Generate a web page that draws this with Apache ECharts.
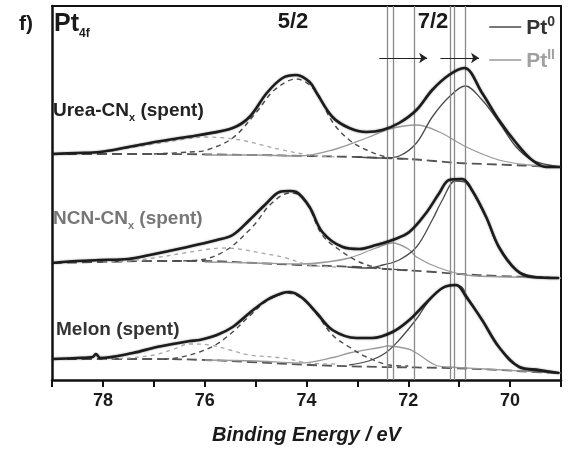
<!DOCTYPE html>
<html>
<head>
<meta charset="utf-8">
<script src="https://cdn.jsdelivr.net/npm/echarts@6/dist/echarts.min.js"></script>
<style>html,body{margin:0;padding:0;background:#fff}#c{width:572px;height:450px}</style>
</head>
<body>
<div id="c"></div>
<script>
// ---- Data (binding energy eV, intensity a.u. offset per spectrum) ----
const xTickLabels = [70, 72, 74, 76, 78];

const ureaEnvelope = [[79.0,226],[78.5,227],[78.06,228],[77.5,233],[77.08,237],[76.6,241],[76.1,245],[75.45,252],[75.12,263],[74.78,287],[74.47,302],[74.2,305],[73.94,298],[73.8,287],[73.49,263],[73.16,252],[72.82,248],[72.51,250],[72.18,257],[71.84,270],[71.53,290],[71.2,305],[70.9,312],[70.55,287],[70.22,260],[69.88,237],[69.57,220],[69.29,213],[69.0,213]];
const ureaBaseline = [[79,226],[77,226],[75,225],[74,224],[73,223],[72.5,222],[72,221],[71.5,219],[71,217],[70.5,216],[70,215],[69.5,214],[69,213]];
const ureaPt0_72 = [[73.0,223],[72.5,222],[72.18,224],[71.84,237],[71.53,263],[71.2,283],[70.88,294],[70.55,280],[70.22,258],[69.88,233],[69.57,220],[69.24,215],[69.0,213]];
const ureaPt0_52 = [[77.0,226],[76.3,228],[75.96,230],[75.45,242],[74.98,268],[74.63,290],[74.2,301],[73.84,290],[73.49,258],[73.16,240],[72.82,230],[72.43,223],[72.0,221]];
const ureaPtII_72 = [[76.0,225],[75.0,225],[74.14,224],[73.49,230],[72.82,242],[72.37,251],[71.84,255],[71.39,248],[70.86,233],[70.22,220],[69.63,215],[69.0,213]];
const ureaPtII_52 = [[78.5,227],[78.0,228],[77.5,232],[77.0,236],[76.5,240],[76.0,243],[75.6,242],[75.2,239],[74.8,234],[74.47,230],[73.94,225],[73.4,223]];

const ncnEnvelope = [[79.0,117],[78.5,119],[78.06,120],[77.5,121],[77.08,125],[76.43,132],[75.76,140],[75.45,145],[75.12,160],[74.78,177],[74.53,188],[74.33,189],[74.2,188],[73.94,173],[73.69,148],[73.29,133],[72.96,131],[72.63,135],[72.31,140],[71.98,148],[71.65,167],[71.39,187],[71.2,200],[70.94,201],[70.75,190],[70.47,163],[70.22,133],[69.88,110],[69.57,103],[69.04,102]];
const ncnBaseline = [[79,117],[78,118],[77,119],[76,119],[75,117],[74.14,115],[73,113],[72.45,111],[71.5,108],[71,106],[70.22,104],[69.5,103],[69,102]];
const ncnPt0_72 = [[73.2,113],[72.82,112],[72.5,115],[72.18,120],[71.84,133],[71.53,160],[71.33,180],[71.08,199],[70.9,198],[70.75,189],[70.47,162],[70.22,132],[69.88,110],[69.57,104],[69.04,102]];
const ncnPt0_52 = [[76.6,119],[76.1,120],[75.57,130],[75.12,150],[74.98,158],[74.7,176],[74.33,187],[74.1,184],[73.94,172],[73.69,145],[73.35,130],[72.96,118],[72.57,112],[72.0,110]];
const ncnPtII_72 = [[76.0,118],[75.0,117],[74.14,116],[73.6,118],[73.16,122],[72.63,132],[72.31,137],[72.0,131],[71.84,123],[71.39,112],[70.86,105],[70.0,103],[69.0,102]];
const ncnPtII_52 = [[78.0,118],[77.5,119],[77.0,122],[76.4,127],[75.9,131],[75.6,132],[75.2,130],[74.9,127],[74.47,123],[73.94,115],[73.4,113]];

const melonEnvelope = [[79.0,21],[78.5,22],[78.2,23],[78.14,26],[78.05,22],[77.41,27],[76.94,33],[76.29,39],[76.1,40],[75.76,45],[75.45,53],[75.12,67],[74.78,80],[74.47,87],[74.33,88],[74.08,82],[73.8,67],[73.49,50],[73.02,42],[72.71,42],[72.31,48],[71.98,60],[71.65,77],[71.33,92],[71.06,95],[70.86,83],[70.55,60],[70.22,33],[69.82,13],[69.43,10],[69.04,7]];
const melonBaseline = [[79,21],[77,21],[76,20],[75.12,18],[73.94,15],[72.51,13],[71.2,12],[70.22,10],[69.5,8],[69,7]];
const melonPt0_72 = [[73.16,15],[72.78,19],[72.45,27],[72.18,40],[71.84,61],[71.53,83],[71.14,95],[70.95,93],[70.86,85],[70.55,60],[70.22,33],[69.96,17],[69.6,10],[69.0,7]];
const melonPt0_52 = [[76.8,21],[76.55,22],[76.1,28],[75.76,36],[75.45,48],[75.12,64],[74.78,79],[74.37,87],[74.08,81],[73.8,66],[73.49,45],[73.16,33],[72.82,23],[72.37,15],[72.0,14]];
const melonPtII_72 = [[76.0,20],[75.0,19],[74.14,17],[73.43,23],[73.16,27],[72.51,33],[72.41,34],[72.0,31],[71.84,27],[71.47,15],[71.2,13],[70.5,11],[69.0,7]];
const melonPtII_52 = [[78.0,21],[77.5,22],[77.0,25],[76.6,31],[76.3,36],[75.9,35],[75.5,30],[75.12,25],[74.47,22],[73.94,17],[73.4,16]];

const verticalLines = [72.41, 72.29, 71.88, 71.18, 71.09, 70.88];
const arrowStarts = [72.57, 71.37];
const arrowEnds = [71.63, 70.61];
const arrowLevel = 322;

// ---- Styles ----
const FONT = '"Liberation Sans", Arial, Helvetica, sans-serif';
const C_ENV = '#1c1c1c', C_PT0 = '#4a4a4a', C_PTII = '#9a9a9a', C_BASE = '#555';

function line(name, data, color, width, type, z, extra) {
  return { name, type: 'line', data, showSymbol: false, symbol: 'none', smooth: 0.35,
    lineStyle: Object.assign({ color, width, type }, extra || {}), itemStyle: { color }, z: z || 2, silent: true, animation: false };
}

const series = [];
[[ureaBaseline, ureaPt0_72, ureaPt0_52, ureaPtII_72, ureaPtII_52, ureaEnvelope],
 [ncnBaseline, ncnPt0_72, ncnPt0_52, ncnPtII_72, ncnPtII_52, ncnEnvelope],
 [melonBaseline, melonPt0_72, melonPt0_52, melonPtII_72, melonPtII_52, melonEnvelope]].forEach((s, i) => {
  series.push(line('baseline' + i, s[0], C_BASE, 1.8, [10, 5], 2));
  series.push(line('PtII', s[3], C_PTII, 1.3, 'solid', 3));
  series.push(line('PtII52_' + i, s[4], '#a8a8a8', 1.3, [4, 4], 3));
  series.push(line('Pt0', s[1], C_PT0, 1.3, 'solid', 4));
  series.push(line('Pt052_' + i, s[2], C_PT0, 1.4, [5, 4], 4));
  series.push(line('envelope' + i, s[5], C_ENV, 2.6, 'solid', 6, { shadowBlur: 2, shadowColor: 'rgba(0,0,0,0.45)' }));
});

// vertical reference lines and shift arrows
series.push({
  name: 'refs', type: 'line', data: melonBaseline, showSymbol: false, symbol: 'none',
  lineStyle: { opacity: 0 }, silent: true, animation: false, z: 1,
  markLine: {
    silent: true, symbol: 'none', animation: false, label: { show: false },
    lineStyle: { color: '#8a8a8a', width: 1.3, type: 'solid' },
    data: verticalLines.map(v => ({ xAxis: v }))
  }
});
series.push({
  name: 'arrows', type: 'line', data: ureaBaseline, showSymbol: false, symbol: 'none',
  lineStyle: { opacity: 0 }, silent: true, animation: false, z: 7,
  markLine: {
    silent: true, symbol: ['none', 'arrow'], symbolSize: 8, animation: false, label: { show: false },
    lineStyle: { color: '#222', width: 1, type: 'solid' },
    data: arrowStarts.map((s, i) => [{ coord: [s, arrowLevel] }, { coord: [arrowEnds[i], arrowLevel] }])
  }
});

const frameAxis = { show: true, axisLine: { show: true, onZero: false, lineStyle: { color: '#111', width: 2 } },
  axisTick: { show: false }, axisLabel: { show: false }, splitLine: { show: false } };

const chart = echarts.init(document.getElementById('c'), null, { renderer: 'canvas' });
chart.setOption({
  backgroundColor: '#fff',
  animation: false,
  textStyle: { fontFamily: FONT },
  grid: { left: 52, right: 11, top: 6, bottom: 70 },
  xAxis: [{
    type: 'value', min: 69, max: 79, interval: 1, inverse: true,
    name: 'Binding Energy / eV', nameLocation: 'middle', nameGap: 45,
    nameTextStyle: { fontFamily: FONT, fontSize: 20, fontWeight: 'bold', fontStyle: 'italic', color: '#1a1a1a' },
    axisLine: { show: true, onZero: false, lineStyle: { color: '#111', width: 2.5 } },
    axisTick: { show: true, inside: false, length: 7, lineStyle: { color: '#111', width: 2 } },
    axisLabel: { margin: 12, fontFamily: FONT, fontSize: 18, fontWeight: 'bold', color: '#1a1a1a',
      formatter: v => (xTickLabels.indexOf(Math.round(v)) >= 0 && Math.abs(v - Math.round(v)) < 1e-6) ? String(Math.round(v)) : '' },
    splitLine: { show: false }
  }, Object.assign({ type: 'value', min: 69, max: 79, inverse: true, position: 'top' }, frameAxis)],
  yAxis: [{
    type: 'value', min: 0, max: 374,
    axisLine: { show: true, onZero: false, lineStyle: { color: '#111', width: 2.5 } },
    axisTick: { show: false }, axisLabel: { show: false }, splitLine: { show: false }
  }, Object.assign({ type: 'value', min: 0, max: 374, position: 'right' }, frameAxis)],
  legend: {
    orient: 'vertical', right: 12, top: 10, itemWidth: 32, itemHeight: 1.5, itemGap: 9,
    icon: 'rect', selectedMode: false,
    data: [
      { name: 'Pt0', itemStyle: { color: C_PT0 } },
      { name: 'PtII', itemStyle: { color: C_PTII } }
    ],
    formatter: n => n === 'Pt0' ? '{b|Pt}{bs|0}' : '{g|Pt}{gs|II}',
    textStyle: {
      rich: {
        b: { fontFamily: FONT, fontSize: 21, fontWeight: 'bold', color: '#333', lineHeight: 24, verticalAlign: 'bottom' },
        bs: { fontFamily: FONT, fontSize: 14, fontWeight: 'bold', color: '#333', lineHeight: 14, verticalAlign: 'top' },
        g: { fontFamily: FONT, fontSize: 21, fontWeight: 'bold', color: '#a0a0a0', lineHeight: 24, verticalAlign: 'bottom' },
        gs: { fontFamily: FONT, fontSize: 14, fontWeight: 'bold', color: '#a0a0a0', lineHeight: 14, verticalAlign: 'top' }
      }
    }
  },
  graphic: [
    { type: 'text', x: 19, y: 24, silent: true,
      style: { text: 'f)', font: 'bold 21px ' + FONT, fill: '#1a1a1a', verticalAlign: 'middle' } },
    { type: 'text', x: 54, y: 26, silent: true,
      style: { text: '{m|Pt}{s|4f}', verticalAlign: 'middle',
        rich: { m: { fontFamily: FONT, fontSize: 25, fontWeight: 'bold', fill: '#1a1a1a', lineHeight: 28, verticalAlign: 'top' },
                s: { fontFamily: FONT, fontSize: 12, fontWeight: 'bold', fill: '#1a1a1a', lineHeight: 12, verticalAlign: 'bottom' } } } },
    { type: 'text', x: 293, y: 22, silent: true,
      style: { text: '5/2', font: 'bold 22px ' + FONT, fill: '#1a1a1a', align: 'center', verticalAlign: 'middle' } },
    { type: 'text', x: 433, y: 22, silent: true,
      style: { text: '7/2', font: 'bold 22px ' + FONT, fill: '#1a1a1a', align: 'center', verticalAlign: 'middle' } },
    { type: 'text', x: 53, y: 112, silent: true,
      style: { text: '{m|Urea-CN}{s|x}{m| (spent)}', verticalAlign: 'middle',
        rich: { m: { fontFamily: FONT, fontSize: 19, fontWeight: 'bold', fill: '#222', lineHeight: 22, verticalAlign: 'top' },
                s: { fontFamily: FONT, fontSize: 11, fontWeight: 'bold', fill: '#222', lineHeight: 11, verticalAlign: 'bottom' } } } },
    { type: 'text', x: 53, y: 220, silent: true,
      style: { text: '{m|NCN-CN}{s|x}{m| (spent)}', verticalAlign: 'middle',
        rich: { m: { fontFamily: FONT, fontSize: 19, fontWeight: 'bold', fill: '#777', lineHeight: 22, verticalAlign: 'top' },
                s: { fontFamily: FONT, fontSize: 11, fontWeight: 'bold', fill: '#777', lineHeight: 11, verticalAlign: 'bottom' } } } },
    { type: 'text', x: 56, y: 330, silent: true,
      style: { text: 'Melon (spent)', font: 'bold 19px ' + FONT, fill: '#333', verticalAlign: 'middle' } }
  ],
  series
});
</script>
</body>
</html>
